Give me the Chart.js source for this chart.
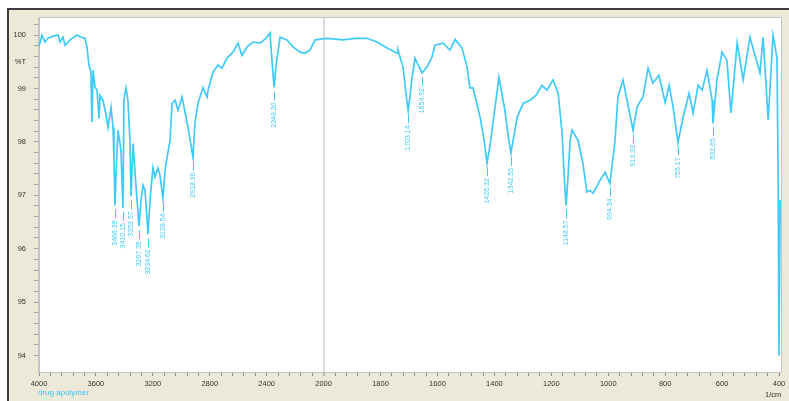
<!DOCTYPE html>
<html>
<head>
<meta charset="utf-8">
<script src="https://cdn.jsdelivr.net/npm/chart.js@4/dist/chart.umd.min.js"></script>
<style>
    body { margin: 0; background: #fff; width: 789px; height: 401px; overflow: hidden; position: relative; }
    #moldura { position: absolute; left: 7px; top: 8px; width: 782px; height: 393px;
               background: #ECE9D8; border-top: 2px solid #3c3c3c; border-left: 2px solid #3c3c3c; box-sizing: border-box; }
    #grafico { position: absolute; left: 0; top: 0; }
    #legenda { position: absolute; left: 38px; top: 388px; font: 8px "Liberation Sans", Arial, sans-serif; color: #3cc8f8; }
    #unidade { position: absolute; left: 765px; top: 390px; font: 7.5px "Liberation Sans", Arial, sans-serif; color: #333; }
</style>
</head>
<body>
<div id="moldura"></div>
<canvas id="grafico" width="789" height="401"></canvas>
<div id="legenda">drug apolymer</div>
<div id="unidade">1/cm</div>

<script>
const numeroOnda = [4000, 3979, 3958, 3937, 3902, 3866, 3852, 3831, 3817, 3782, 3733, 3705, 3677, 3663, 3649, 3635,
    3628, 3620, 3606, 3592, 3578, 3571, 3550, 3529, 3515, 3494, 3480, 3473, 3466, 3459, 3445, 3424,
    3410, 3403, 3389, 3375, 3361, 3353, 3339, 3325, 3311, 3297, 3283, 3269, 3255, 3234, 3220, 3199,
    3185, 3164, 3150, 3129, 3114, 3100, 3079, 3065, 3044, 3023, 2995, 2974, 2953, 2932, 2918, 2904,
    2883, 2848, 2819, 2812, 2777, 2742, 2714, 2679, 2637, 2602, 2574, 2538, 2496, 2447, 2405, 2377,
    2363, 2348, 2334, 2306, 2257, 2215, 2166, 2131, 2096, 2060, 1988, 1932, 1890, 1848, 1812, 1777,
    1742, 1739, 1721, 1710, 1703, 1696, 1689, 1679, 1668, 1654, 1637, 1619, 1609, 1580, 1556, 1538,
    1514, 1496, 1486, 1475, 1450, 1436, 1426, 1415, 1405, 1384, 1363, 1352, 1342, 1331, 1320, 1299,
    1275, 1254, 1233, 1215, 1194, 1176, 1162, 1155, 1148, 1141, 1134, 1127, 1106, 1089, 1075, 1064,
    1053, 1029, 1011, 994, 976, 966, 948, 934, 913, 899, 878, 860, 843, 822, 800, 786,
    772, 755, 737, 716, 702, 684, 670, 653, 635, 632, 618, 600, 583, 569, 547, 526,
    502, 467, 456, 438, 421, 407, 403, 400, 396];
const transmitancia = [99.78, 100.0, 99.87, 99.94, 99.98, 100.0, 99.87, 99.96, 99.81, 99.91, 100.0, 99.96, 99.94, 99.78, 99.44, 99.31,
    98.37, 99.34, 99.02, 98.97, 98.44, 98.87, 98.78, 98.50, 98.27, 98.65, 98.27, 97.66, 96.81, 97.37, 98.22, 97.84,
    96.76, 98.78, 99.01, 98.78, 98.03, 96.98, 97.97, 97.41, 96.91, 96.42, 96.91, 97.19, 97.09, 96.27, 96.91, 97.52,
    97.34, 97.51, 97.37, 96.94, 97.47, 97.71, 98.03, 98.72, 98.78, 98.59, 98.84, 98.56, 98.27, 97.94, 97.71, 98.35,
    98.72, 99.02, 98.84, 98.97, 99.31, 99.44, 99.38, 99.57, 99.68, 99.85, 99.62, 99.78, 99.87, 99.85, 99.94, 100.04,
    99.53, 99.02, 99.44, 99.96, 99.91, 99.78, 99.68, 99.66, 99.72, 99.91, 99.94, 99.91, 99.94, 99.94, 99.87, 99.76,
    99.66, 99.72, 99.40, 98.87, 98.59, 98.87, 99.21, 99.57, 99.44, 99.29, 99.40, 99.59, 99.81, 99.85, 99.72, 99.92,
    99.76, 99.40, 99.01, 99.01, 98.46, 98.03, 97.60, 97.94, 98.35, 99.21, 98.59, 98.12, 97.79, 98.12, 98.46, 98.72,
    98.78, 98.87, 99.06, 98.97, 99.16, 98.91, 98.16, 97.37, 96.81, 97.37, 98.03, 98.22, 98.03, 97.60, 97.06, 97.09,
    97.04, 97.28, 97.43, 97.22, 98.03, 98.84, 99.16, 98.78, 98.22, 98.65, 98.84, 99.38, 99.10, 99.25, 98.74, 99.06,
    98.65, 97.99, 98.46, 98.91, 98.54, 99.06, 98.97, 99.34, 98.78, 98.35, 99.16, 99.68, 99.53, 98.54, 99.85, 99.16,
    99.96, 99.29, 99.96, 98.41, 100.0, 99.57, 97.28, 94.0, 96.91];

// picos marcados
const picosOnda = [3466.39, 3410.15, 3353.57, 3297.35, 3234.62, 3128.54, 2918.30, 2348.30, 1703.14, 1654.92,
    1426.32, 1342.53, 1148.57, 994.34, 913.33, 755.17, 632.65];

// rótulos dos eixos
const rotulosX = [4000, 3600, 3200, 2800, 2400, 2000, 1800, 1600, 1400, 1200, 1000, 800, 600, 400];
const rotulosY = [94, 95, 96, 97, 98, 99, 100];

const corLinha = '#40caf8';

// escala do espectro: 400 1/cm por divisão acima de 2000, 200 abaixo
function paraPosicao(w) {
    return w >= 2000 ? (4000 - w) / 400 : 5 + (2000 - w) / 200;
}

const pontos = numeroOnda.map((w, i) => ({ x: paraPosicao(w), y: transmitancia[i] }));

const fundoArea = {
    id: 'fundoArea',
    beforeDraw(chart) {
        const { ctx, chartArea: a } = chart;
        ctx.save();
        ctx.fillStyle = '#fff';
        ctx.fillRect(a.left, a.top, a.right - a.left, a.bottom - a.top);
        ctx.strokeStyle = '#c4c4c4';
        ctx.lineWidth = 1;
        ctx.strokeRect(a.left - 0.5, a.top - 0.5, a.right - a.left + 1, a.bottom - a.top + 1);
        ctx.restore();
    }
};

const rotulosPicos = {
    id: 'rotulosPicos',
    afterDatasetsDraw(chart) {
        const { ctx, scales } = chart;
        ctx.save();
        ctx.strokeStyle = corLinha;
        ctx.fillStyle = corLinha;
        ctx.lineWidth = 1;
        ctx.font = '7px "Liberation Sans", Arial, sans-serif';
        picosOnda.forEach(function (p) {
            // ponto mais próximo do pico nos dados
            let idx = 0;
            numeroOnda.forEach(function (w, i) {
                if (Math.abs(w - p) < Math.abs(numeroOnda[idx] - p)) idx = i;
            });
            const x = Math.round(scales.x.getPixelForValue(paraPosicao(p))) + 0.5;
            const y = scales.y.getPixelForValue(transmitancia[idx]);
            ctx.beginPath();
            ctx.moveTo(x, y + 4);
            ctx.lineTo(x, y + 13);
            ctx.stroke();
            ctx.save();
            ctx.translate(x, y + 15);
            ctx.rotate(-Math.PI / 2);
            ctx.textAlign = 'right';
            ctx.textBaseline = 'middle';
            ctx.fillText(p.toFixed(2), 0, 0);
            ctx.restore();
        });
        ctx.restore();
    }
};

const ctx = document.getElementById('grafico').getContext('2d');
const grafico = new Chart(ctx, {
    type: 'scatter',
    data: {
        datasets: [{
            data: pontos,
            showLine: true,
            borderColor: corLinha,
            borderWidth: 1.7,
            pointRadius: 0,
            tension: 0
        }]
    },
    plugins: [fundoArea, rotulosPicos],
    options: {
        responsive: false,
        animation: false,
        devicePixelRatio: 1,
        layout: { padding: { top: 18, right: 8, left: 0, bottom: 0 } },
        plugins: {
            legend: { display: false },
            tooltip: { enabled: false }
        },
        scales: {
            x: {
                type: 'linear',
                min: 0,
                max: 13.035,
                afterFit: function (scale) { scale.height = 29; },
                afterBuildTicks: function (scale) {
                    let t = [];
                    for (let i = 0; i <= 65; i++) t.push({ value: i / 5 });
                    scale.ticks = t;
                },
                ticks: {
                    autoSkip: false,
                    maxRotation: 0,
                    padding: 3,
                    color: '#333',
                    font: { family: '"Liberation Sans", Arial, sans-serif', size: 7.5 },
                    callback: function (value) {
                        const r = Math.round(value);
                        return Math.abs(value - r) < 1e-6 ? String(rotulosX[r]) : '';
                    }
                },
                grid: {
                    drawOnChartArea: true,
                    tickLength: 4,
                    tickWidth: 1,
                    tickColor: '#888',
                    color: function (c) {
                        return c.tick && Math.abs(c.tick.value - 5) < 1e-6 ? '#dcdcdc' : 'rgba(0,0,0,0)';
                    },
                    lineWidth: function (c) {
                        return c.tick && Math.abs(c.tick.value - 5) < 1e-6 ? 2 : 1;
                    }
                },
                border: { display: true, color: '#c4c4c4' }
            },
            y: {
                min: 93.69,
                max: 100.32,
                afterFit: function (scale) { scale.width = 39; },
                afterBuildTicks: function (scale) {
                    let t = [];
                    for (let i = 0; i <= 31; i++) t.push({ value: 94 + i / 5 });
                    t.push({ value: 99.5 });
                    scale.ticks = t;
                },
                ticks: {
                    autoSkip: false,
                    padding: 8,
                    color: '#333',
                    font: { family: '"Liberation Sans", Arial, sans-serif', size: 7.5 },
                    callback: function (value) {
                        if (Math.abs(value - 99.5) < 1e-6) return '%T';
                        const r = Math.round(value);
                        return Math.abs(value - r) < 1e-6 && rotulosY.includes(r) ? String(r) : '';
                    }
                },
                grid: {
                    drawOnChartArea: false,
                    tickLength: 5,
                    tickWidth: 1,
                    tickColor: function (c) {
                        return c.tick && Math.abs(c.tick.value - 99.5) < 1e-6 ? 'rgba(0,0,0,0)' : '#aaa';
                    }
                },
                border: { display: true, color: '#c4c4c4' }
            }
        }
    }
});
</script>
</body>
</html>
